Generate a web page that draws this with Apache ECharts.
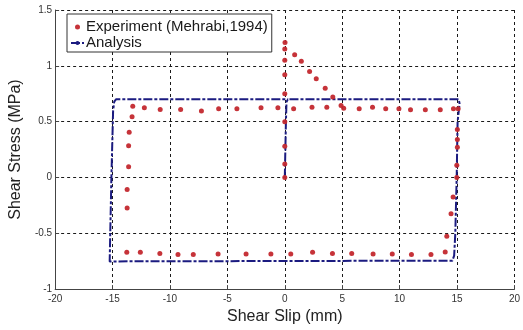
<!DOCTYPE html>
<html>
<head>
<meta charset="utf-8">
<script src="https://cdn.jsdelivr.net/npm/echarts@6/dist/echarts.min.js"></script>
<style>html,body{margin:0;padding:0;background:#fff;}#c{width:523px;height:330px;}</style>
</head>
<body>
<div id="c"></div>
<script>
// Experiment (Mehrabi, 1994) points
var expX = [0, 0, 0, 0, 0, 0, 0, 0, 0.02,
  0.86, 1.44, 2.16, 2.74, 3.52, 4.18, 4.9, 5.13,
  6.48, 7.64, 8.79, 9.94, 10.95, 12.24, 13.54, 14.69, 15.1,
  15.03, 15.03, 15.03, 14.98, 14.98, 14.66, 14.48, 14.11, 13.97,
  12.73, 11.03, 9.36, 7.69, 5.83, 4.15, 2.42, 0.52, -1.21, -3.37, -5.81, -7.97, -9.30, -10.88, -12.58, -13.76,
  -13.73, -13.73, -13.6, -13.6, -13.55, -13.3, -13.24,
  -12.23, -10.85, -9.07, -7.26, -5.76, -4.17, -2.07, -0.6, 0.77, 2.37, 3.66];
var expY = [0.0, 0.12, 0.28, 0.50, 0.75, 0.92, 1.05, 1.15, 1.21,
  1.10, 1.04, 0.95, 0.885, 0.80, 0.72, 0.645, 0.62,
  0.616, 0.63, 0.616, 0.616, 0.607, 0.607, 0.607, 0.616, 0.616,
  0.43, 0.34, 0.27, 0.11, 0.0, -0.174, -0.325, -0.526, -0.668,
  -0.69, -0.69, -0.685, -0.685, -0.68, -0.68, -0.67, -0.685, -0.685, -0.685, -0.685, -0.69, -0.69, -0.68, -0.671, -0.671,
  -0.274, -0.107, 0.095, 0.284, 0.405, 0.544, 0.637,
  0.625, 0.608, 0.608, 0.596, 0.616, 0.616, 0.625, 0.625, 0.616, 0.63, 0.63];
// Analysis curve
var anaX = [0, 0.1, 0.15, 0.3, 15.15, 15.22, 15.05, 14.97, 14.85, 14.75, 14.6, -15.25, -15.1, -14.95, -14.85, -14.7, 0.3];
var anaY = [0, 0.5, 0.68, 0.70, 0.70, 0.66, 0.5, 0.0, -0.5, -0.70, -0.745, -0.752, 0.0, 0.6, 0.68, 0.70, 0.70];
var xTicks = [-20, -15, -10, -5, 0, 5, 10, 15, 20];
var yTicks = [-1, -0.5, 0, 0.5, 1, 1.5];

function zip(a, b) { return a.map(function (v, i) { return [v, b[i]]; }); }

var chart = echarts.init(document.getElementById('c'), null, {renderer: 'canvas'});
var gridLine = {show: true, lineStyle: {color: '#1a1a1a', type: [3, 3], width: 1}};
chart.setOption({
  animation: false,
  backgroundColor: '#fff',
  textStyle: {fontFamily: 'Arial, "Liberation Sans", sans-serif'},
  grid: {left: 52, right: 8, top: 10, bottom: 32, containLabel: false},
  legend: {
    left: 67, top: 14, orient: 'vertical',
    backgroundColor: '#fff', borderColor: '#333', borderWidth: 1,
    padding: [5, 4, 1, 3], itemGap: 0, itemWidth: 13, itemHeight: 5,
    textStyle: {fontSize: 15, lineHeight: 16, color: '#1a1a1a', fontFamily: 'Arial, "Liberation Sans", sans-serif', padding: [0, 0, 0, -3]},
    data: ['Experiment (Mehrabi,1994)', 'Analysis']
  },
  xAxis: {
    type: 'value', min: xTicks[0], max: xTicks[xTicks.length - 1], interval: 5,
    name: 'Shear Slip (mm)', nameLocation: 'middle', nameGap: 17,
    nameTextStyle: {fontSize: 16, color: '#222'},
    axisLine: {show: true, onZero: false, lineStyle: {color: '#444', width: 1}},
    axisTick: {show: true, inside: true, length: 4, lineStyle: {color: '#444'}},
    axisLabel: {fontSize: 10, color: '#333', margin: 5},
    splitLine: gridLine
  },
  yAxis: {
    type: 'value', min: yTicks[0], max: yTicks[yTicks.length - 1], interval: 0.5,
    name: 'Shear Stress (MPa)', nameLocation: 'middle', nameGap: 18,
    nameTextStyle: {fontSize: 16, color: '#222'},
    axisLine: {show: true, onZero: false, lineStyle: {color: '#444', width: 1}},
    axisTick: {show: true, inside: true, length: 4, lineStyle: {color: '#444'}},
    axisLabel: {fontSize: 10, color: '#333', margin: 3},
    splitLine: gridLine
  },
  series: [
    {
      name: 'Analysis', type: 'line', data: zip(anaX, anaY),
      showSymbol: false, symbol: 'none',
      lineStyle: {color: '#1b1b80', width: 2, type: [9, 2, 3, 2]},
      itemStyle: {color: '#1b1b80'}, z: 2
    },
    {
      name: 'Experiment (Mehrabi,1994)', type: 'scatter', data: zip(expX, expY),
      symbol: 'circle', symbolSize: 5,
      itemStyle: {color: '#c3282e', opacity: 0.95}, z: 3
    }
  ]
});
</script>
</body>
</html>
